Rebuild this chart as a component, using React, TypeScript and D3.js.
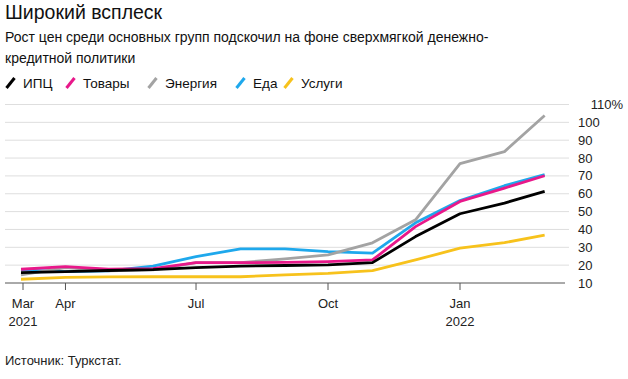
import React from "react";
import * as d3 from "d3";

const W = 628;
const H = 379;

const months = [
  "2021-03-01", "2021-04-01", "2021-05-01", "2021-06-01", "2021-07-01", "2021-08-01",
  "2021-09-01", "2021-10-01", "2021-11-01", "2021-12-01", "2022-01-01", "2022-02-01", "2022-03-01",
];

const seriesNames = ["ИПЦ", "Товары", "Энергия", "Еда", "Услуги"];
const seriesColors = ["#000000", "#e8188a", "#a3a3a3", "#1ea8ec", "#f7c21c"];

const cpi = [15.8, 16.4, 17.0, 17.5, 18.6, 19.5, 19.8, 20.1, 21.4, 36.0, 48.8, 54.8, 61.3];
const goods = [17.7, 19.2, 17.8, 18.0, 21.4, 21.4, 21.6, 22.0, 22.9, 41.6, 55.7, 63.2, 70.1];
const energy = [14.5, 18.6, 16.8, 17.3, 21.4, 21.4, 23.5, 25.7, 32.5, 45.4, 76.9, 83.6, 103.8];
const food = [17.3, 16.4, 16.8, 19.5, 24.8, 29.1, 29.1, 27.6, 26.7, 43.7, 56.2, 64.5, 70.7];
const services = [12.1, 13.2, 13.4, 13.5, 13.5, 13.5, 14.5, 15.4, 16.9, 22.9, 29.5, 32.6, 36.8];

const seriesValues = [cpi, goods, energy, food, services];

const yTicks = [10, 20, 30, 40, 50, 60, 70, 80, 90, 100, 110];
const xTickDates = ["2021-03-01", "2021-04-01", "2021-07-01", "2021-10-01", "2022-01-01"];
const xTickLabels = ["Mar", "Apr", "Jul", "Oct", "Jan"];
const xTickYears = ["2021", "", "", "", "2022"];

const legendX = [5, 65, 147, 235, 283];

export default function App() {
  const parse = d3.timeParse("%Y-%m-%d");
  const dates = months.map((m) => parse(m) as Date);

  const x0 = parse("2021-03-01") as Date;
  const x1 = parse("2022-01-01") as Date;
  const x = d3.scaleTime().domain([x0, x1]).range([21, 460]);
  const y = d3.scaleLinear().domain([10, 110]).range([283, 104.5]);

  const plotLeft = 5;
  const gridRight = 569;
  const axisRight = 565;

  const line = d3
    .line<number>()
    .x((_, i) => x(dates[i]))
    .y((v) => y(v))
    .curve(d3.curveLinear);

  const font = "'Liberation Sans', Arial, sans-serif";

  return (
    <div style={{ position: "fixed", left: 0, top: 0 }}>
      <svg width={W} height={H} style={{ display: "block", background: "#fff" }} fontFamily={font}>
        <text x={5} y={19} fontSize={19.5} fill="#111">Широкий всплеск</text>
        <text x={5} y={42} fontSize={14} fill="#111">
          Рост цен среди основных групп подскочил на фоне сверхмягкой денежно-
        </text>
        <text x={5} y={63} fontSize={14} fill="#111">кредитной политики</text>

        {seriesNames.map((name, i) => (
          <g key={name}>
            <line
              x1={legendX[i] + 1.5}
              y1={88}
              x2={legendX[i] + 9.5}
              y2={78}
              stroke={seriesColors[i]}
              strokeWidth={3}
            />
            <text x={legendX[i] + 18} y={87.5} fontSize={13.5} fill="#111">{name}</text>
          </g>
        ))}

        {yTicks.map((t) => (
          <g key={t}>
            {t !== 10 && (
              <line x1={plotLeft} x2={gridRight} y1={y(t)} y2={y(t)} stroke="#dedede" strokeWidth={1} />
            )}
            {t === 110 ? (
              <text x={623} y={y(t)} dy="0.35em" fontSize={13} fill="#222" textAnchor="end">110%</text>
            ) : (
              <text x={578} y={y(t)} dy="0.35em" fontSize={13} fill="#222">{t}</text>
            )}
          </g>
        ))}

        {seriesValues
          .map((vals, i) => ({ vals, i }))
          .reverse()
          .map(({ vals, i }) => (
            <path
              key={i}
              d={line(vals) || ""}
              fill="none"
              stroke={seriesColors[i]}
              strokeWidth={2.8}
              strokeLinejoin="round"
              strokeLinecap="butt"
            />
          ))}

        <line x1={plotLeft} x2={axisRight} y1={y(10)} y2={y(10)} stroke="#555" strokeWidth={1} />
        {xTickDates.map((d, i) => {
          const px = i === 0 ? 23 : x(parse(d) as Date);
          return (
            <g key={d}>
              <line x1={px} x2={px} y1={y(10)} y2={y(10) + 7} stroke="#555" strokeWidth={1} />
              <text x={px} y={308} fontSize={13} fill="#222" textAnchor="middle">{xTickLabels[i]}</text>
              {xTickYears[i] && (
                <text x={px} y={326} fontSize={13} fill="#222" textAnchor="middle">{xTickYears[i]}</text>
              )}
            </g>
          );
        })}

        <text x={5} y={365} fontSize={13} fill="#222">Источник: Туркстат.</text>
      </svg>
    </div>
  );
}
